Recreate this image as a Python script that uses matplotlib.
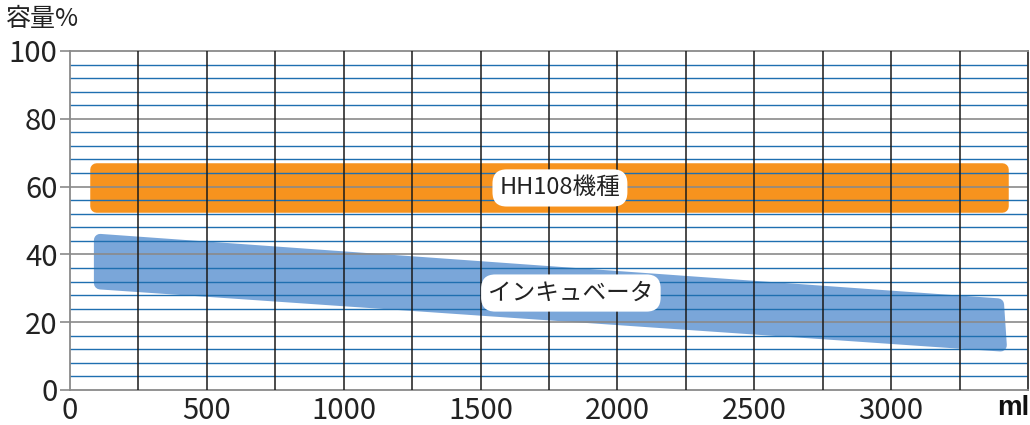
import numpy as np
import matplotlib
matplotlib.use("Agg")
import matplotlib.pyplot as plt
from matplotlib.patches import Polygon

plt.rcParams['font.family'] = ['Noto Sans CJK JP', 'DejaVu Sans']

# axis values
x_ticks = [0, 500, 1000, 1500, 2000, 2500, 3000]
x_grid = [250, 500, 750, 1000, 1250, 1500, 1750, 2000, 2250, 2500, 2750, 3000, 3250]
y_ticks = [0, 20, 40, 60, 80, 100]
y_minor = [4, 8, 12, 16, 24, 28, 32, 36, 44, 48, 52, 56, 64, 68, 72, 76, 84, 88, 92, 96]

# bands (corners: ml, %)
hh_name = "HH108機種"
hh_x = [95, 3405, 3405, 95]
hh_y = [65.3, 65.3, 54.2, 54.2]
inc_name = "インキュベータ"
inc_x = [110, 3390, 3400, 110]
inc_y = [44.2, 25.2, 13.2, 31.5]

fig = plt.figure(figsize=(10.30, 4.25), dpi=100)
ax = fig.add_axes([0.068, 0.0824, 0.93, 0.7976])
ax.set_xlim(0, 3500)
ax.set_ylim(0, 100)

# bands, rounded via thick round-joined edge
orange = '#f7931e'
blue = '#7aa6d9'
ax.add_patch(Polygon(np.column_stack([hh_x, hh_y]), closed=True, facecolor=orange,
                     edgecolor=orange, lw=9, joinstyle='round', zorder=1))
ax.add_patch(Polygon(np.column_stack([inc_x, inc_y]), closed=True, facecolor=blue,
                     edgecolor=blue, lw=9, joinstyle='round', zorder=1))

# grid
for y in y_minor:
    ax.axhline(y, color='#1f6fb0', lw=1.0, zorder=2)
for y in y_ticks[1:-1]:
    ax.axhline(y, color='#8a8a8a', lw=1.2, zorder=2)
for x in x_grid:
    ax.axvline(x, color='#1a1a1a', lw=1.1, zorder=3)

for s in ['left', 'top', 'bottom']:
    ax.spines[s].set_color('#8a8a8a')
    ax.spines[s].set_linewidth(1.3)
ax.spines['right'].set_color('#333333')
ax.spines['right'].set_linewidth(1.3)

ax.set_yticks(y_ticks)
ax.set_xticks(x_ticks)
ax.tick_params(axis='y', length=7, width=1.2, color='#8a8a8a', labelsize=21,
               labelcolor='#222222', pad=2)
ax.tick_params(axis='x', length=0, labelsize=21, labelcolor='#222222', pad=4)

box = dict(boxstyle='round,pad=0.3,rounding_size=0.6', facecolor='white', edgecolor='none')
ax.text(1790, 59.6, hh_name, fontsize=17, ha='center', va='center', color='#222222',
        bbox=box, zorder=5)
ax.text(1830, 28.6, inc_name, fontsize=17, ha='center', va='center', color='#222222',
        bbox=box, zorder=5)

fig.text(0.006, 0.955, "容量%", fontsize=18, ha='left', va='center', color='#222222')
fig.text(0.999, 0.04, "ml", fontsize=20, fontweight='bold', ha='right', va='center',
         color='#111111', family=['Liberation Sans', 'DejaVu Sans'])

fig.savefig("out.png", dpi=100)
